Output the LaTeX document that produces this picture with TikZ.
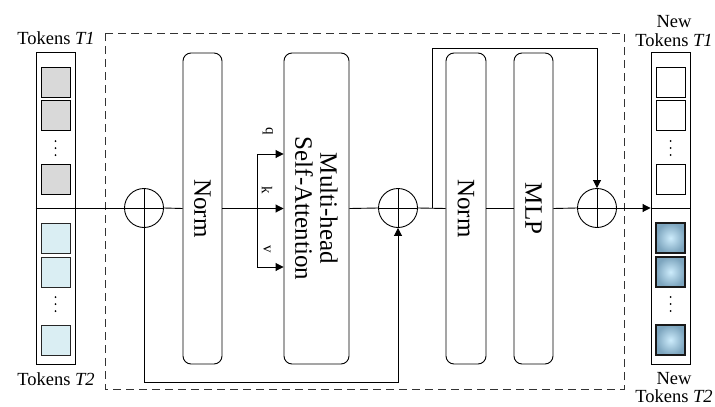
\documentclass[tikz,border=0pt]{standalone}
\usepackage{fontspec}
\setmainfont{Liberation Serif}
\usetikzlibrary{arrows.meta,shadings}
\tikzset{
  blk/.style={draw, rounded corners=8pt, minimum height=311pt, inner sep=0pt},
  col/.style={draw, minimum width=39pt, minimum height=312pt, inner sep=0pt},
  sqgray/.style={draw, fill=gray!30, minimum width=29pt, minimum height=30pt, inner sep=0pt},
  sqblue/.style={draw=black!85, fill={rgb,255:red,218;green,238;blue,243}, minimum width=29pt, minimum height=30pt, inner sep=0pt},
  sqwhite/.style={draw, fill=white, minimum width=29pt, minimum height=30pt, inner sep=0pt},
  sqshade/.style={draw=black!90, line width=1.4pt, inner color={rgb,255:red,205;green,236;blue,252}, outer color={rgb,255:red,125;green,165;blue,190}, minimum width=29pt, minimum height=30pt, inner sep=0pt},
  opl/.style={circle, draw, minimum size=39pt, inner sep=0pt,
    path picture={\draw (path picture bounding box.north) -- (path picture bounding box.south)
      (path picture bounding box.west) -- (path picture bounding box.east);}},
  big/.style={font=\fontsize{25}{25}\selectfont, rotate=-90, align=center},
  lbl/.style={font=\fontsize{18.5}{20}\selectfont, anchor=base, inner sep=1pt},
  small/.style={font=\fontsize{15}{16}\selectfont, rotate=-90},
  arr/.style={-{Triangle[length=8pt,width=8pt]}},
  dotc/.style={circle, fill, inner sep=0pt, minimum size=2pt}
}
\begin{document}
\begin{tikzpicture}[x=1pt,y=-1pt,line width=0.9pt]
\useasboundingbox (0,0) rectangle (715,407);

% dashed frame
\draw[black!80, dash pattern=on 8pt off 5pt] (105,33) rectangle (624,389);

% left token column
\node[col] (colL) at (55.5,208) {};
\node[sqgray] (g1) at (55.5,82) {};
\node[sqgray] (g2) at (55.5,115.5) {};
\node[sqgray] (g3) at (55.5,179) {};
\node[dotc] (gd1) at (55.5,141) {};
\node[dotc] (gd2) at (55.5,148) {};
\node[dotc] (gd3) at (55.5,155) {};
\node[sqblue] (b1) at (55.5,238) {};
\node[sqblue] (b2) at (55.5,272) {};
\node[sqblue] (b3) at (55.5,340) {};
\node[dotc] (bd1) at (55.5,297) {};
\node[dotc] (bd2) at (55.5,304) {};
\node[dotc] (bd3) at (55.5,311) {};
\node[lbl] (tl1) at (56,44) {Tokens \textit{T1}};
\node[lbl] (tl2) at (56,385) {Tokens \textit{T2}};

% right token column
\node[col] (colR) at (670.5,208) {};
\node[sqwhite] (w1) at (670.5,82) {};
\node[sqwhite] (w2) at (670.5,115.5) {};
\node[sqwhite] (w3) at (670.5,179) {};
\node[dotc] (wd1) at (670.5,141) {};
\node[dotc] (wd2) at (670.5,148) {};
\node[dotc] (wd3) at (670.5,155) {};
\node[sqshade] (s1) at (670.5,238) {};
\node[sqshade] (s2) at (670.5,272) {};
\node[sqshade] (s3) at (670.5,340) {};
\node[dotc] (sd1) at (670.5,297) {};
\node[dotc] (sd2) at (670.5,304) {};
\node[dotc] (sd3) at (670.5,311) {};
\node[lbl] (rn1) at (674,27) {New};
\node[lbl] (rt1) at (674,46) {Tokens \textit{T1}};
\node[lbl] (rn2) at (674,384) {New};
\node[lbl] (rt2) at (674,402) {Tokens \textit{T2}};

% blocks
\node[blk, minimum width=39pt] (norm1) at (202.5,208.5) {};
\node[big] (norm1t) at (norm1) {Norm};
\node[blk, minimum width=65pt] (mhsa) at (316.5,208.5) {};
\node[big] (mhsat) at (mhsa) {Multi-head\\Self-Attention};
\node[blk, minimum width=40pt] (norm2) at (466,208.5) {};
\node[big] (norm2t) at (norm2) {Norm};
\node[blk, minimum width=39pt] (mlp) at (533.5,208.5) {};
\node[big] (mlpt) at (mlp) {MLP};

% adders
\node[opl] (c1) at (144,208) {};
\node[opl] (c2) at (398,208) {};
\node[opl] (c3) at (597,208) {};

% main path
\draw (colL.west) -- (c1.west);
\draw (c1.east) -- (norm1.west);
\draw[arr] (norm1.east) -- (mhsa.west);
\draw (mhsa.east) -- (c2.west);
\draw (c2.east) -- (norm2.west);
\draw (norm2.east) -- (mlp.west);
\draw (mlp.east) -- (c3.west);
\draw[arr] (c3.east) -- (colR.west);
\draw (colR.west) -- (colR.east);

% q k v
\coordinate (qb) at (257,154);
\coordinate (vb) at (257,267);
\draw (qb) -- (vb);
\draw[arr] (qb) -- (mhsa.west |- qb);
\draw[arr] (vb) -- (mhsa.west |- vb);
\node[small] (ql) at (268,131) {q};
\node[small] (kl) at (267,190) {k};
\node[small] (vl) at (267,249) {v};

% residual 1
\coordinate (fb) at (398,382);
\draw[arr] (c1.south) |- (fb) -- (c2.south);

% residual 2
\coordinate (br) at (432,208);
\coordinate (sk) at (597,48);
\draw[arr] (br) |- (sk) -- (c3.north);
\end{tikzpicture}
\end{document}
